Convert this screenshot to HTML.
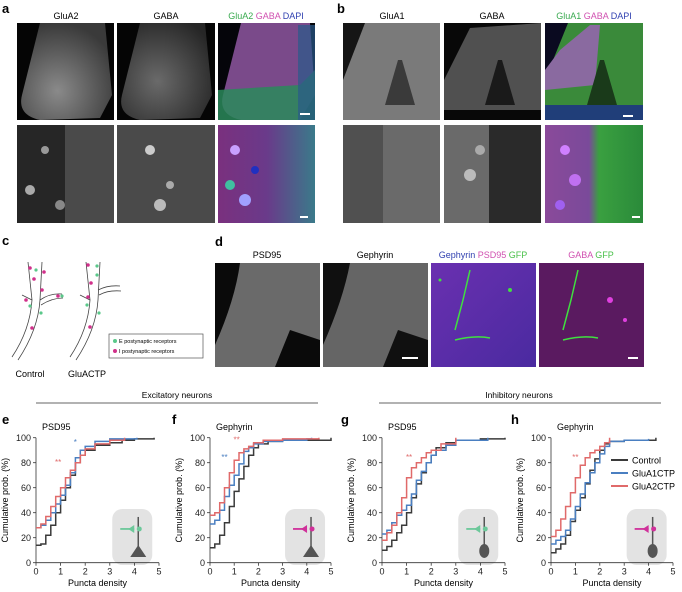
<!DOCTYPE html>
<html><head><meta charset="utf-8"><style>
body{margin:0;background:#fff}
svg{display:block;font-family:"Liberation Sans",Arial,sans-serif}
</style></head><body>
<svg id="fig" width="682" height="592" viewBox="0 0 682 592" xmlns="http://www.w3.org/2000/svg">
<defs>
<radialGradient id="gTissue" cx="40%" cy="70%" r="70%"><stop offset="0" stop-color="#8a8a8a"/><stop offset="1" stop-color="#3a3a3a"/></radialGradient>
<radialGradient id="gTissue2" cx="40%" cy="60%" r="70%"><stop offset="0" stop-color="#6a6a6a"/><stop offset="1" stop-color="#262626"/></radialGradient>
<linearGradient id="gMergeA" x1="0" y1="0" x2="0" y2="1"><stop offset="0" stop-color="#8a4a9a"/><stop offset="0.6" stop-color="#6a4a90"/><stop offset="1" stop-color="#2a8a6a"/></linearGradient>
<linearGradient id="gMergeB" x1="0" y1="0" x2="1" y2="0"><stop offset="0" stop-color="#7a5aa0"/><stop offset="0.5" stop-color="#3a9a4a"/><stop offset="1" stop-color="#2a7a40"/></linearGradient>
<linearGradient id="gMergeA2" x1="0" y1="0" x2="1" y2="0"><stop offset="0" stop-color="#7a307e"/><stop offset="0.5" stop-color="#6a3a8a"/><stop offset="1" stop-color="#3a7a8a"/></linearGradient>
<linearGradient id="gMergeB2" x1="0" y1="0" x2="1" y2="0"><stop offset="0" stop-color="#8a4a9a"/><stop offset="0.45" stop-color="#7a4a9a"/><stop offset="0.55" stop-color="#3aa040"/><stop offset="1" stop-color="#2a8a3a"/></linearGradient>
<linearGradient id="gBlue" x1="0" y1="0" x2="1" y2="1"><stop offset="0" stop-color="#6a30b0"/><stop offset="1" stop-color="#4a2aa0"/></linearGradient>
</defs>

<!-- Panel a -->
<text x="2" y="13" font-size="13" font-weight="bold">a</text>
<text x="66" y="19" font-size="9" text-anchor="middle">GluA2</text>
<text x="166" y="19" font-size="9" text-anchor="middle">GABA</text>
<text x="266" y="19" font-size="9" text-anchor="middle"><tspan fill="#3aaa50">GluA2</tspan> <tspan fill="#d050b0">GABA</tspan> <tspan fill="#3040b0">DAPI</tspan></text>
<g><rect x="17" y="23" width="97" height="97" fill="#050505"/><path d="M40 23 L105 23 L112 95 L100 118 L40 120 Q17 115 22 95 Z" fill="url(#gTissue)"/></g>
<g><rect x="117" y="23" width="98" height="97" fill="#050505"/><path d="M140 23 L205 23 L212 95 L200 118 L140 120 Q117 115 122 95 Z" fill="url(#gTissue2)"/></g>
<g><rect x="218" y="23" width="97" height="97" fill="#05050a"/><path d="M241 23 L310 23 L315 95 L300 120 L241 120 Q218 115 223 95 Z" fill="#7a4a8a"/><path d="M218 90 L300 85 L315 70 L315 120 L218 120 Z" fill="#2a8a5a" opacity="0.85"/><rect x="298" y="25" width="17" height="95" fill="#2a5a8a" opacity="0.7"/><rect x="300" y="113" width="10" height="2" fill="#fff"/></g>
<g><rect x="17" y="125" width="97" height="98" fill="#262626"/><rect x="65" y="125" width="49" height="98" fill="#4a4a4a"/><circle cx="30" cy="190" r="5" fill="#aaa"/><circle cx="45" cy="150" r="4" fill="#999"/><circle cx="60" cy="205" r="5" fill="#888"/></g>
<g><rect x="117" y="125" width="98" height="98" fill="#4a4a4a"/><circle cx="150" cy="150" r="5" fill="#ccc"/><circle cx="160" cy="205" r="6" fill="#bbb"/><circle cx="170" cy="185" r="4" fill="#aaa"/></g>
<g><rect x="218" y="125" width="97" height="98" fill="url(#gMergeA2)"/><circle cx="235" cy="150" r="5" fill="#c8a0ff"/><circle cx="245" cy="200" r="6" fill="#a0a0ff"/><circle cx="230" cy="185" r="5" fill="#40c0a0"/><circle cx="255" cy="170" r="4" fill="#2030c0"/><rect x="300" y="216" width="8" height="2" fill="#fff"/></g>

<!-- Panel b -->
<text x="337" y="13" font-size="13" font-weight="bold">b</text>
<text x="392" y="19" font-size="9" text-anchor="middle">GluA1</text>
<text x="492" y="19" font-size="9" text-anchor="middle">GABA</text>
<text x="594" y="19" font-size="9" text-anchor="middle"><tspan fill="#3aaa50">GluA1</tspan> <tspan fill="#d050b0">GABA</tspan> <tspan fill="#3040b0">DAPI</tspan></text>
<g><rect x="343" y="23" width="97" height="97" fill="#151515"/><path d="M365 23 L440 23 L440 120 L343 120 L343 80 Z" fill="#7a7a7a"/><path d="M385 105 L398 60 L402 60 L415 105 Z" fill="#3a3a3a"/></g>
<g><rect x="444" y="23" width="97" height="97" fill="#080808"/><path d="M470 28 L541 23 L541 110 L444 110 L444 80 Z" fill="#505050"/><path d="M485 105 L498 60 L502 60 L515 105 Z" fill="#1a1a1a"/></g>
<g><rect x="545" y="23" width="98" height="97" fill="#0a0a20"/><path d="M568 23 L643 23 L643 120 L545 120 L545 80 Z" fill="#3a8a3a"/><path d="M560 50 L590 25 L600 25 L595 85 L545 90 L545 70 Z" fill="#8a6aa0"/><path d="M587 105 L600 60 L604 60 L617 105 Z" fill="#1a3a1a"/><rect x="545" y="105" width="98" height="15" fill="#1a2a8a" opacity="0.8"/><rect x="623" y="115" width="10" height="2" fill="#fff"/></g>
<g><rect x="343" y="125" width="97" height="98" fill="#6a6a6a"/><rect x="343" y="125" width="40" height="98" fill="#505050"/></g>
<g><rect x="444" y="125" width="97" height="98" fill="#2a2a2a"/><rect x="444" y="125" width="45" height="98" fill="#6a6a6a"/><circle cx="470" cy="175" r="6" fill="#bbb"/><circle cx="480" cy="150" r="5" fill="#aaa"/></g>
<g><rect x="545" y="125" width="98" height="98" fill="url(#gMergeB2)"/><circle cx="565" cy="150" r="5" fill="#d080ff"/><circle cx="575" cy="180" r="6" fill="#c070f0"/><circle cx="560" cy="205" r="5" fill="#a060f0"/><rect x="632" y="216" width="8" height="2" fill="#fff"/></g>

<!-- Panel c -->
<text x="2" y="245" font-size="13" font-weight="bold">c</text>
<g fill="none" stroke="#444" stroke-width="0.8">
<path d="M12 357 Q30 330 32 300 L28 262"/><path d="M18 360 Q38 330 40 300 L42 262"/><path d="M32 300 L22 295"/><path d="M40 300 Q50 293 62 294"/><path d="M41 305 Q52 298 63 298"/>
<circle cx="30" cy="268" r="1.8" fill="#d0308a" stroke="none"/><circle cx="34" cy="279" r="1.8" fill="#d0308a" stroke="none"/><circle cx="42" cy="290" r="1.8" fill="#d0308a" stroke="none"/><circle cx="44" cy="272" r="1.8" fill="#d0308a" stroke="none"/><circle cx="32" cy="328" r="1.8" fill="#d0308a" stroke="none"/><circle cx="58" cy="296" r="1.8" fill="#d0308a" stroke="none"/><circle cx="26" cy="300" r="1.8" fill="#d0308a" stroke="none"/>
<circle cx="36" cy="270" r="1.6" fill="#5ac88a" stroke="none"/><circle cx="30" cy="306" r="1.6" fill="#5ac88a" stroke="none"/><circle cx="41" cy="313" r="1.6" fill="#5ac88a" stroke="none"/><circle cx="62" cy="296" r="1.6" fill="#5ac88a" stroke="none"/></g>
<g fill="none" stroke="#444" stroke-width="0.8">
<path d="M70 357 Q88 330 90 300 L86 262"/><path d="M76 360 Q96 330 98 300 L100 262"/><path d="M90 300 L80 295"/><path d="M98 290 Q108 285 120 286"/><path d="M99 295 Q108 290 121 291"/>
<circle cx="88" cy="265" r="1.8" fill="#d0308a" stroke="none"/><circle cx="91" cy="283" r="1.8" fill="#d0308a" stroke="none"/><circle cx="88" cy="297" r="1.8" fill="#d0308a" stroke="none"/><circle cx="90" cy="327" r="1.8" fill="#d0308a" stroke="none"/>
<circle cx="97" cy="266" r="1.6" fill="#5ac88a" stroke="none"/><circle cx="97" cy="275" r="1.6" fill="#5ac88a" stroke="none"/><circle cx="87" cy="305" r="1.6" fill="#5ac88a" stroke="none"/><circle cx="99" cy="313" r="1.6" fill="#5ac88a" stroke="none"/></g>
<text x="30" y="377" font-size="9" text-anchor="middle">Control</text>
<text x="87" y="377" font-size="9" text-anchor="middle">GluACTP</text>
<g><rect x="109" y="334" width="94" height="24" fill="#fff" stroke="#555" stroke-width="0.7"/>
<circle cx="115" cy="341" r="2" fill="#5ac88a"/><text x="119" y="343" font-size="5.5">E postynaptic receptors</text>
<circle cx="115" cy="351" r="2" fill="#d0308a"/><text x="119" y="353" font-size="5.5">I postynaptic receptors</text></g>

<!-- Panel d -->
<text x="215" y="246" font-size="13" font-weight="bold">d</text>
<text x="267" y="258" font-size="9" text-anchor="middle">PSD95</text>
<text x="375" y="258" font-size="9" text-anchor="middle">Gephyrin</text>
<text x="483" y="258" font-size="9" text-anchor="middle"><tspan fill="#3040b0">Gephyrin</tspan> <tspan fill="#d050b0">PSD95</tspan> <tspan fill="#4ac04a">GFP</tspan></text>
<text x="591" y="258" font-size="9" text-anchor="middle"><tspan fill="#d050b0">GABA</tspan> <tspan fill="#4ac04a">GFP</tspan></text>
<g><rect x="215" y="263" width="105" height="104" fill="#0a0a0a"/><path d="M240 263 L320 263 L320 340 L290 330 L275 367 L215 367 L215 345 Q235 300 240 263 Z" fill="#6a6a6a"/></g>
<g><rect x="323" y="263" width="105" height="104" fill="#101010"/><path d="M350 263 L428 263 L428 340 L398 330 L383 367 L323 367 L323 345 Q343 300 350 263 Z" fill="#656565"/><rect x="402" y="357" width="16" height="2" fill="#fff"/></g>
<g><rect x="431" y="263" width="105" height="104" fill="url(#gBlue)"/><path d="M470 270 L463 300 L455 330" stroke="#40e040" stroke-width="1.5" fill="none"/><path d="M455 340 Q475 335 490 338" stroke="#40e040" stroke-width="1.5" fill="none"/><circle cx="440" cy="280" r="1.5" fill="#40e040"/><circle cx="510" cy="290" r="2" fill="#40e040"/></g>
<g><rect x="539" y="263" width="105" height="104" fill="#5a1a60"/><path d="M578 270 L571 300 L563 330" stroke="#40e040" stroke-width="1.5" fill="none"/><path d="M563 340 Q583 335 598 338" stroke="#40e040" stroke-width="1.5" fill="none"/><circle cx="610" cy="300" r="3" fill="#e040e0"/><circle cx="625" cy="320" r="2" fill="#e040e0"/><rect x="628" y="357" width="10" height="2" fill="#fff"/></g>

<!-- Section headers -->
<text x="177" y="398" font-size="8.5" text-anchor="middle">Excitatory neurons</text>
<line x1="36" y1="403" x2="318" y2="403" stroke="#333" stroke-width="0.8"/>
<text x="519" y="398" font-size="8.5" text-anchor="middle">Inhibitory neurons</text>
<line x1="379" y1="403" x2="661" y2="403" stroke="#333" stroke-width="0.8"/>
<g id="charts"></g>
</svg>
<script>
// Chart data (x = puncta density, y = cumulative %)
const eCtrlX=[0,0.2,0.4,0.6,0.8,1.0,1.2,1.4,1.6,1.8,2.0,2.4,3,3.5,4,4.8];
const eCtrlY=[14,15,22,30,40,50,60,70,80,86,90,94,96,98,99,100];
const eA1X=[0,0.2,0.4,0.6,0.8,1.0,1.2,1.4,1.6,1.8,2.0,2.4,3,4.1];
const eA1Y=[28,30,34,40,47,54,62,72,84,90,93,97,99,100];
const eA2X=[0,0.2,0.4,0.6,0.8,1.0,1.2,1.4,1.6,1.8,2.0,2.4,3,3.6];
const eA2Y=[28,31,37,45,53,60,68,74,80,86,91,95,98,100];
const fCtrlX=[0,0.2,0.4,0.6,0.8,1.0,1.2,1.4,1.6,1.8,2.0,2.4,3,5];
const fCtrlY=[12,15,22,32,45,57,67,77,86,92,95,97,98,100];
const fA1X=[0,0.2,0.4,0.6,0.8,1.0,1.2,1.4,1.6,1.8,2.2,3,4,4.2];
const fA1Y=[31,34,42,53,62,70,79,89,92,95,97,98,99,100];
const fA2X=[0,0.2,0.4,0.6,0.8,1.0,1.2,1.4,1.6,1.8,2.2,3,4.5];
const fA2Y=[38,40,48,60,72,82,88,91,93,96,98,99,100];
const gCtrlX=[0,0.2,0.4,0.6,0.8,1.0,1.2,1.4,1.6,1.8,2.0,2.2,2.6,3,4,5];
const gCtrlY=[10,13,18,24,30,40,52,63,72,80,86,92,96,98,99,100];
const gA1X=[0,0.2,0.4,0.6,0.8,1.0,1.2,1.4,1.6,1.8,2.0,2.2,2.6,3,4.3];
const gA1Y=[23,26,32,38,42,46,55,66,73,80,86,90,94,98,100];
const gA2X=[0,0.2,0.4,0.6,0.8,1.0,1.2,1.4,1.6,1.8,2.0,2.4,3];
const gA2Y=[18,24,30,40,52,68,76,80,84,88,90,95,100];
const hCtrlX=[0,0.2,0.4,0.6,0.8,1.0,1.2,1.4,1.6,1.8,2.0,2.2,2.4,3,4.3];
const hCtrlY=[8,11,15,22,33,42,52,63,74,83,90,95,97,98,100];
const hA1X=[0,0.2,0.4,0.6,0.8,1.0,1.2,1.4,1.6,1.8,2.0,2.2,2.4,3,4];
const hA1Y=[15,18,21,26,35,45,55,64,72,80,87,93,97,98,99];
const hA2X=[0,0.2,0.4,0.6,0.8,1.0,1.2,1.4,1.6,1.8,2.0,2.2,2.4];
const hA2Y=[21,26,35,45,56,68,78,84,88,90,93,96,100];
const xTicks=["0","1","2","3","4","5"];
const yTicks=["0","20","40","60","80","100"];
const seriesNames=["Control","GluA1CTP","GluA2CTP"];
const colors=["#3a3a3a","#4a7fc1","#e06a6a"];

const NS="http://www.w3.org/2000/svg";
const root=document.getElementById('charts');
function mk(tag,attrs,parent){const e=document.createElementNS(NS,tag);for(const k in attrs)e.setAttribute(k,attrs[k]);(parent||root).appendChild(e);return e;}

const panels=[
 {id:'e',x0:36,x1:159,lbl:2,title:'PSD95',s:[[eCtrlX,eCtrlY],[eA1X,eA1Y],[eA2X,eA2Y]],col:'#6cc89a',body:'tri',stars:[[0.9,78,1,'**'],[1.6,94,0,'*']]},
 {id:'f',x0:210,x1:331,lbl:172,title:'Gephyrin',s:[[fCtrlX,fCtrlY],[fA1X,fA1Y],[fA2X,fA2Y]],col:'#d0309a',body:'tri',stars:[[0.6,82,0,'**'],[1.1,96,1,'**']]},
 {id:'g',x0:382,x1:505,lbl:341,title:'PSD95',s:[[gCtrlX,gCtrlY],[gA1X,gA1Y],[gA2X,gA2Y]],col:'#6cc89a',body:'oval',stars:[[1.1,82,1,'**']]},
 {id:'h',x0:551,x1:673,lbl:511,title:'Gephyrin',s:[[hCtrlX,hCtrlY],[hA1X,hA1Y],[hA2X,hA2Y]],col:'#d0309a',body:'oval',stars:[[1.0,82,1,'**']]}
];
const yTop=437.7,yBot=562.7;
panels.forEach(p=>{
 const g=mk('g',{});
 
 
 const sx=v=>p.x0+(p.x1-p.x0)*v/5, sy=v=>yBot-(yBot-yTop)*v/100;
 const L=mk('text',{x:p.lbl,y:424,'font-size':13,'font-weight':'bold'},g);L.textContent=p.id;
 
 
 const T=mk('text',{x:p.x0+6,y:430,'font-size':9},g);T.textContent=p.title;
 
 
 // inset
 const ins=mk('g',{},g);
 
 
 const ix=sx(3.1),iy=sy(43);
 mk('rect',{x:ix,y:iy,width:40,height:56,rx:10,fill:'#e3e3e3'},ins);
 mk('line',{x1:ix+26,y1:iy+8,x2:ix+26,y2:iy+46,stroke:'#555','stroke-width':1.5},ins);
 if(p.body==='tri')mk('path',{d:`M${ix+18} ${iy+48} L${ix+26} ${iy+36} L${ix+34} ${iy+48} Z`,fill:'#555'},ins);
 else mk('ellipse',{cx:ix+26,cy:iy+42,rx:5,ry:7,fill:'#555'},ins);
 mk('line',{x1:ix+8,y1:iy+20,x2:ix+22,y2:iy+20,stroke:p.col,'stroke-width':1.8},ins);
 mk('path',{d:`M${ix+16} ${iy+20} L${ix+22} ${iy+16} L${ix+22} ${iy+24} Z`,fill:p.col},ins);
 mk('circle',{cx:ix+27,cy:iy+20,r:2.5,fill:p.col},ins);
 // axes
 const ax=mk('g',{stroke:'#333','stroke-width':0.8,fill:'none'},g);
 
 
 mk('line',{x1:p.x0,y1:yTop,x2:p.x0,y2:yBot},ax);
 mk('line',{x1:p.x0,y1:yBot,x2:p.x1,y2:yBot},ax);
 xTicks.forEach((t,i)=>{const x=sx(+t);mk('line',{x1:x,y1:yBot,x2:x,y2:yBot+3},ax);
  const tx=mk('text',{x:x,y:yBot+12,'font-size':9,'text-anchor':'middle',fill:'#222',stroke:'none'},g);tx.textContent=t;
  
  });
 yTicks.forEach(t=>{const y=sy(+t);mk('line',{x1:p.x0-3,y1:y,x2:p.x0,y2:y},ax);
  const ty=mk('text',{x:p.x0-5,y:y+3.5,'font-size':9,'text-anchor':'end',fill:'#222'},g);ty.textContent=t;
  
  });
 const xl=mk('text',{x:(p.x0+p.x1)/2,y:586,'font-size':9,'text-anchor':'middle'},g);xl.textContent='Puncta density';
 
 
 const yx=p.x0-28,yy=(yTop+yBot)/2;
 const yl=mk('text',{x:yx,y:yy,'font-size':9,'text-anchor':'middle',transform:`rotate(-90 ${yx} ${yy})`},g);yl.textContent='Cumulative prob. (%)';
 
 
 // series (draw control first, then GluA1, then GluA2)
 p.s.forEach((s,k)=>{
  let d='';s[0].forEach((xv,i)=>{const X=sx(xv),Y=sy(s[1][i]);d+=(i?`L${X.toFixed(1)} ${sy(s[1][i-1]).toFixed(1)} L`:'M')+X.toFixed(1)+' '+Y.toFixed(1)+' ';});
  const pth=mk('path',{d:d,fill:'none',stroke:colors[k],'stroke-width':1.5},g);
  
  
 });
 p.stars.forEach(st=>{const t=mk('text',{x:sx(st[0]),y:sy(st[1]),'font-size':8,fill:colors[st[2]===1?2:1],'text-anchor':'middle'},g);t.textContent=st[3];
  
  });
});
// legend in h
const lg=mk('g',{});


seriesNames.forEach((n,i)=>{const y=460+i*13;
 mk('line',{x1:611,y1:y,x2:628,y2:y,stroke:colors[i],'stroke-width':2},lg);
 const t=mk('text',{x:632,y:y+3.5,'font-size':9},lg);t.textContent=n;
 
 });
</script>
</body></html>
